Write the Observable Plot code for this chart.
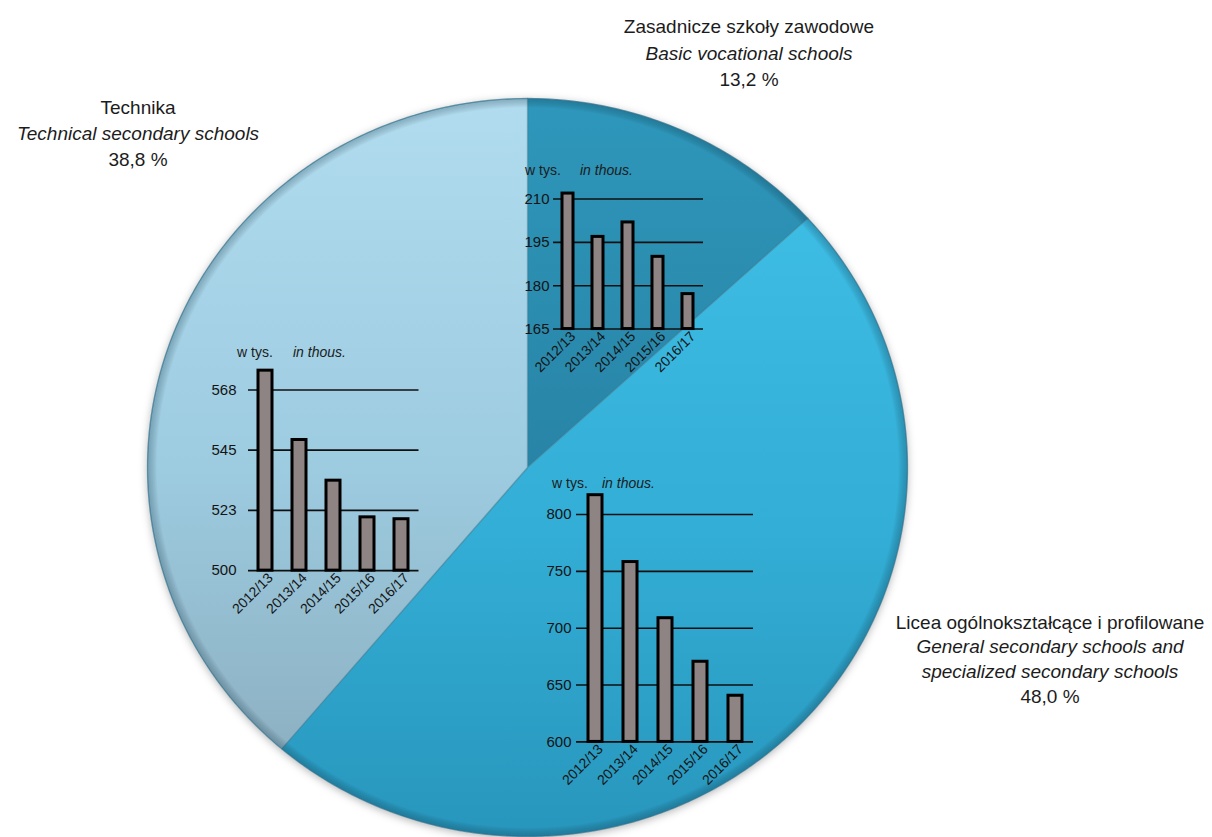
<!DOCTYPE html>
<html><head><meta charset="utf-8">
<script src="https://cdn.jsdelivr.net/npm/d3@7"></script>
<script src="https://cdn.jsdelivr.net/npm/@observablehq/plot@0.6"></script>
<style>
body{margin:0;background:#fff;}
#wrap{position:relative;width:1212px;height:837px;overflow:hidden;font-family:"Liberation Sans",Arial,sans-serif;color:#1c1c1c;}
.lbl{position:absolute;text-align:center;font-size:19px;white-space:nowrap;transform:translateX(-50%);}
.unit{position:absolute;font-size:14px;line-height:16px;white-space:nowrap;}
</style></head><body><div id="wrap"></div>
<script>
// ---- data ----
const shareCategories = ["Zasadnicze szkoły zawodowe", "Licea ogólnokształcące i profilowane", "Technika"];
const shareEnglish = ["Basic vocational schools", "General secondary schools and|specialized secondary schools", "Technical secondary schools"];
const shareValues = [13.2, 48.0, 38.8];
const shareLabels = ["13,2 %", "48,0 %", "38,8 %"];
const years = ["2012/13", "2013/14", "2014/15", "2015/16", "2016/17"];
const basicVocational = [211.9, 196.9, 201.9, 190.0, 177.1];
const generalSchools = [817.0, 758.2, 708.8, 670.5, 640.6];
const technicalSchools = [574.7, 548.8, 533.6, 519.9, 519.2];
const basicTicks = [165, 180, 195, 210];
const generalTicks = [600, 650, 700, 750, 800];
const technicalTicks = [500, 522.5, 545, 567.5];
const technicalTickLabels = ["500", "523", "545", "568"];
const unitLabelPl = "w tys.";
const unitLabelEn = "in thous.";

const wrap = document.getElementById("wrap");
const FONT = "'Liberation Sans', Arial, sans-serif";

// ---- pie ----
const CX = 527, CY = 467, RX = 380, RY = 369;
const arcs = d3.pie().sort(null).value(d => d)(shareValues);
const slicePts = arcs.map((a, i) => {
  const pts = [{x: 0, y: 0, i}];
  const n = Math.max(2, Math.ceil((a.endAngle - a.startAngle) / (Math.PI / 360)));
  for (let k = 0; k <= n; k++) {
    const t = a.startAngle + (a.endAngle - a.startAngle) * k / n;
    pts.push({x: Math.sin(t), y: Math.cos(t), i});
  }
  pts.push({x: 0, y: 0, i});
  return pts;
});
const rim = d3.range(0, 361).map(k => ({x: Math.sin(k * Math.PI / 180), y: Math.cos(k * Math.PI / 180)}));

const pie = Plot.plot({
  width: 1212, height: 837, margin: 0,
  style: {background: "transparent", fontFamily: FONT},
  x: {domain: [-CX / RX, (1212 - CX) / RX], axis: null},
  y: {domain: [-(837 - CY) / RY, CY / RY], axis: null},
  marks: [
    Plot.line(rim, {x: "x", y: "y", fill: "#ffffff", stroke: "none"}),
    ...slicePts.map((pts, i) => Plot.line(pts, {x: "x", y: "y", fill: `url(#slice${i})`, stroke: "#3f7d96", strokeOpacity: 0.5, strokeWidth: 1.3, curve: "linear"})),
    Plot.line(rim, {x: "x", y: "y", fill: "url(#rimShade)", stroke: "#3a7891", strokeWidth: 1, strokeOpacity: 0.5})
  ]
});
pie.style.position = "absolute"; pie.style.left = "0px"; pie.style.top = "0px";
pie.insertAdjacentHTML("afterbegin", `
<defs>
  <linearGradient id="slice0" gradientUnits="userSpaceOnUse" x1="0" y1="98" x2="0" y2="470">
    <stop offset="0" stop-color="#2e97bb"/><stop offset="1" stop-color="#2884a6"/>
  </linearGradient>
  <linearGradient id="slice1" gradientUnits="userSpaceOnUse" x1="0" y1="220" x2="0" y2="836">
    <stop offset="0" stop-color="#3dbce4"/><stop offset="0.5" stop-color="#33aed6"/><stop offset="1" stop-color="#2896bc"/>
  </linearGradient>
  <linearGradient id="slice2" gradientUnits="userSpaceOnUse" x1="0" y1="98" x2="0" y2="836">
    <stop offset="0" stop-color="#b1dcef"/><stop offset="0.5" stop-color="#9dcbe0"/><stop offset="1" stop-color="#88a9ba"/>
  </linearGradient>
  <radialGradient id="rimShade" cx="0.5" cy="0.5" r="0.5">
    <stop offset="0" stop-color="#000" stop-opacity="0"/>
    <stop offset="0.975" stop-color="#000" stop-opacity="0"/>
    <stop offset="1" stop-color="#08344a" stop-opacity="0.28"/>
  </radialGradient>
  <filter id="pieShadow" x="-10%" y="-10%" width="120%" height="120%">
    <feDropShadow dx="0" dy="2" stdDeviation="4" flood-color="#000" flood-opacity="0.3"/>
  </filter>
</defs>`);
const lineGroups = pie.querySelectorAll('g[aria-label="line"]');
if (lineGroups.length) lineGroups[0].setAttribute("filter", "url(#pieShadow)");
wrap.appendChild(pie);

// ---- inset bar charts ----
function inset({values, ticks, tickFormat, domain, L, R, B, pxPerUnit, padding, tickPadding}) {
  const ml = 50, mr = 10, mt = 6, mb = 70;
  const T = B - (domain[1] - domain[0]) * pxPerUnit;
  const data = years.map((y, i) => ({year: y, value: values[i]}));
  const svg = Plot.plot({
    width: (R - L) + ml + mr, height: (B - T) + mt + mb,
    marginLeft: ml, marginRight: mr, marginTop: mt, marginBottom: mb,
    style: {background: "transparent", fontFamily: FONT, color: "#141414", overflow: "visible"},
    x: {domain: years, paddingInner: padding, paddingOuter: padding / 2},
    y: {domain},
    marks: [
      Plot.ruleY(ticks, {stroke: "#101010", strokeWidth: 1.6}),
      Plot.barY(data, {x: "year", y1: () => domain[0], y2: "value", fill: "#8f8484", stroke: "#000", strokeWidth: 3}),
      Plot.axisY({ticks, tickFormat, tickSize: 0, tickPadding, fontSize: 15, label: null}),
      Plot.axisX({tickSize: 0, tickRotate: -45, tickPadding: 5, dx: 5, fontSize: 14, label: null})
    ]
  });
  svg.style.position = "absolute";
  svg.style.left = (L - ml) + "px";
  svg.style.top = (T - mt) + "px";
  wrap.appendChild(svg);
}

inset({values: basicVocational, ticks: basicTicks, tickFormat: d => String(d), domain: [165, 214],
  L: 553, R: 703, B: 328.3, pxPerUnit: 2.889, padding: 0.63, tickPadding: 4});
inset({values: technicalSchools, ticks: technicalTicks, tickFormat: (d, i) => technicalTickLabels[i], domain: [500, 577],
  L: 247.5, R: 418, B: 570, pxPerUnit: 2.677, padding: 0.59, tickPadding: 12});
inset({values: generalSchools, ticks: generalTicks, tickFormat: d => String(d), domain: [600, 822],
  L: 576, R: 753, B: 741.7, pxPerUnit: 1.137, padding: 0.6, tickPadding: 5});

// unit labels
function unit(x1, x2, y) {
  const a = document.createElement("div"); a.className = "unit"; a.style.left = x1 + "px"; a.style.top = (y - 8) + "px"; a.textContent = unitLabelPl; wrap.appendChild(a);
  const b = document.createElement("div"); b.className = "unit"; b.style.left = x2 + "px"; b.style.top = (y - 8) + "px"; b.style.fontStyle = "italic"; b.textContent = unitLabelEn; wrap.appendChild(b);
}
unit(525, 580, 170);
unit(237, 293, 352);
unit(552, 602, 483);

// category labels
function label(i, cx, top, lh) {
  const d = document.createElement("div"); d.className = "lbl";
  d.style.left = cx + "px"; d.style.top = top + "px"; d.style.lineHeight = lh + "px";
  const l1 = document.createElement("div"); l1.textContent = shareCategories[i]; d.appendChild(l1);
  shareEnglish[i].split("|").forEach(t => { const e = document.createElement("div"); e.style.fontStyle = "italic"; e.textContent = t; d.appendChild(e); });
  const l3 = document.createElement("div"); l3.textContent = shareLabels[i]; d.appendChild(l3);
  wrap.appendChild(d);
}
label(0, 749, 14, 26.5);
label(1, 1050, 610.5, 24.7);
label(2, 138, 95, 26);
</script></body></html>
